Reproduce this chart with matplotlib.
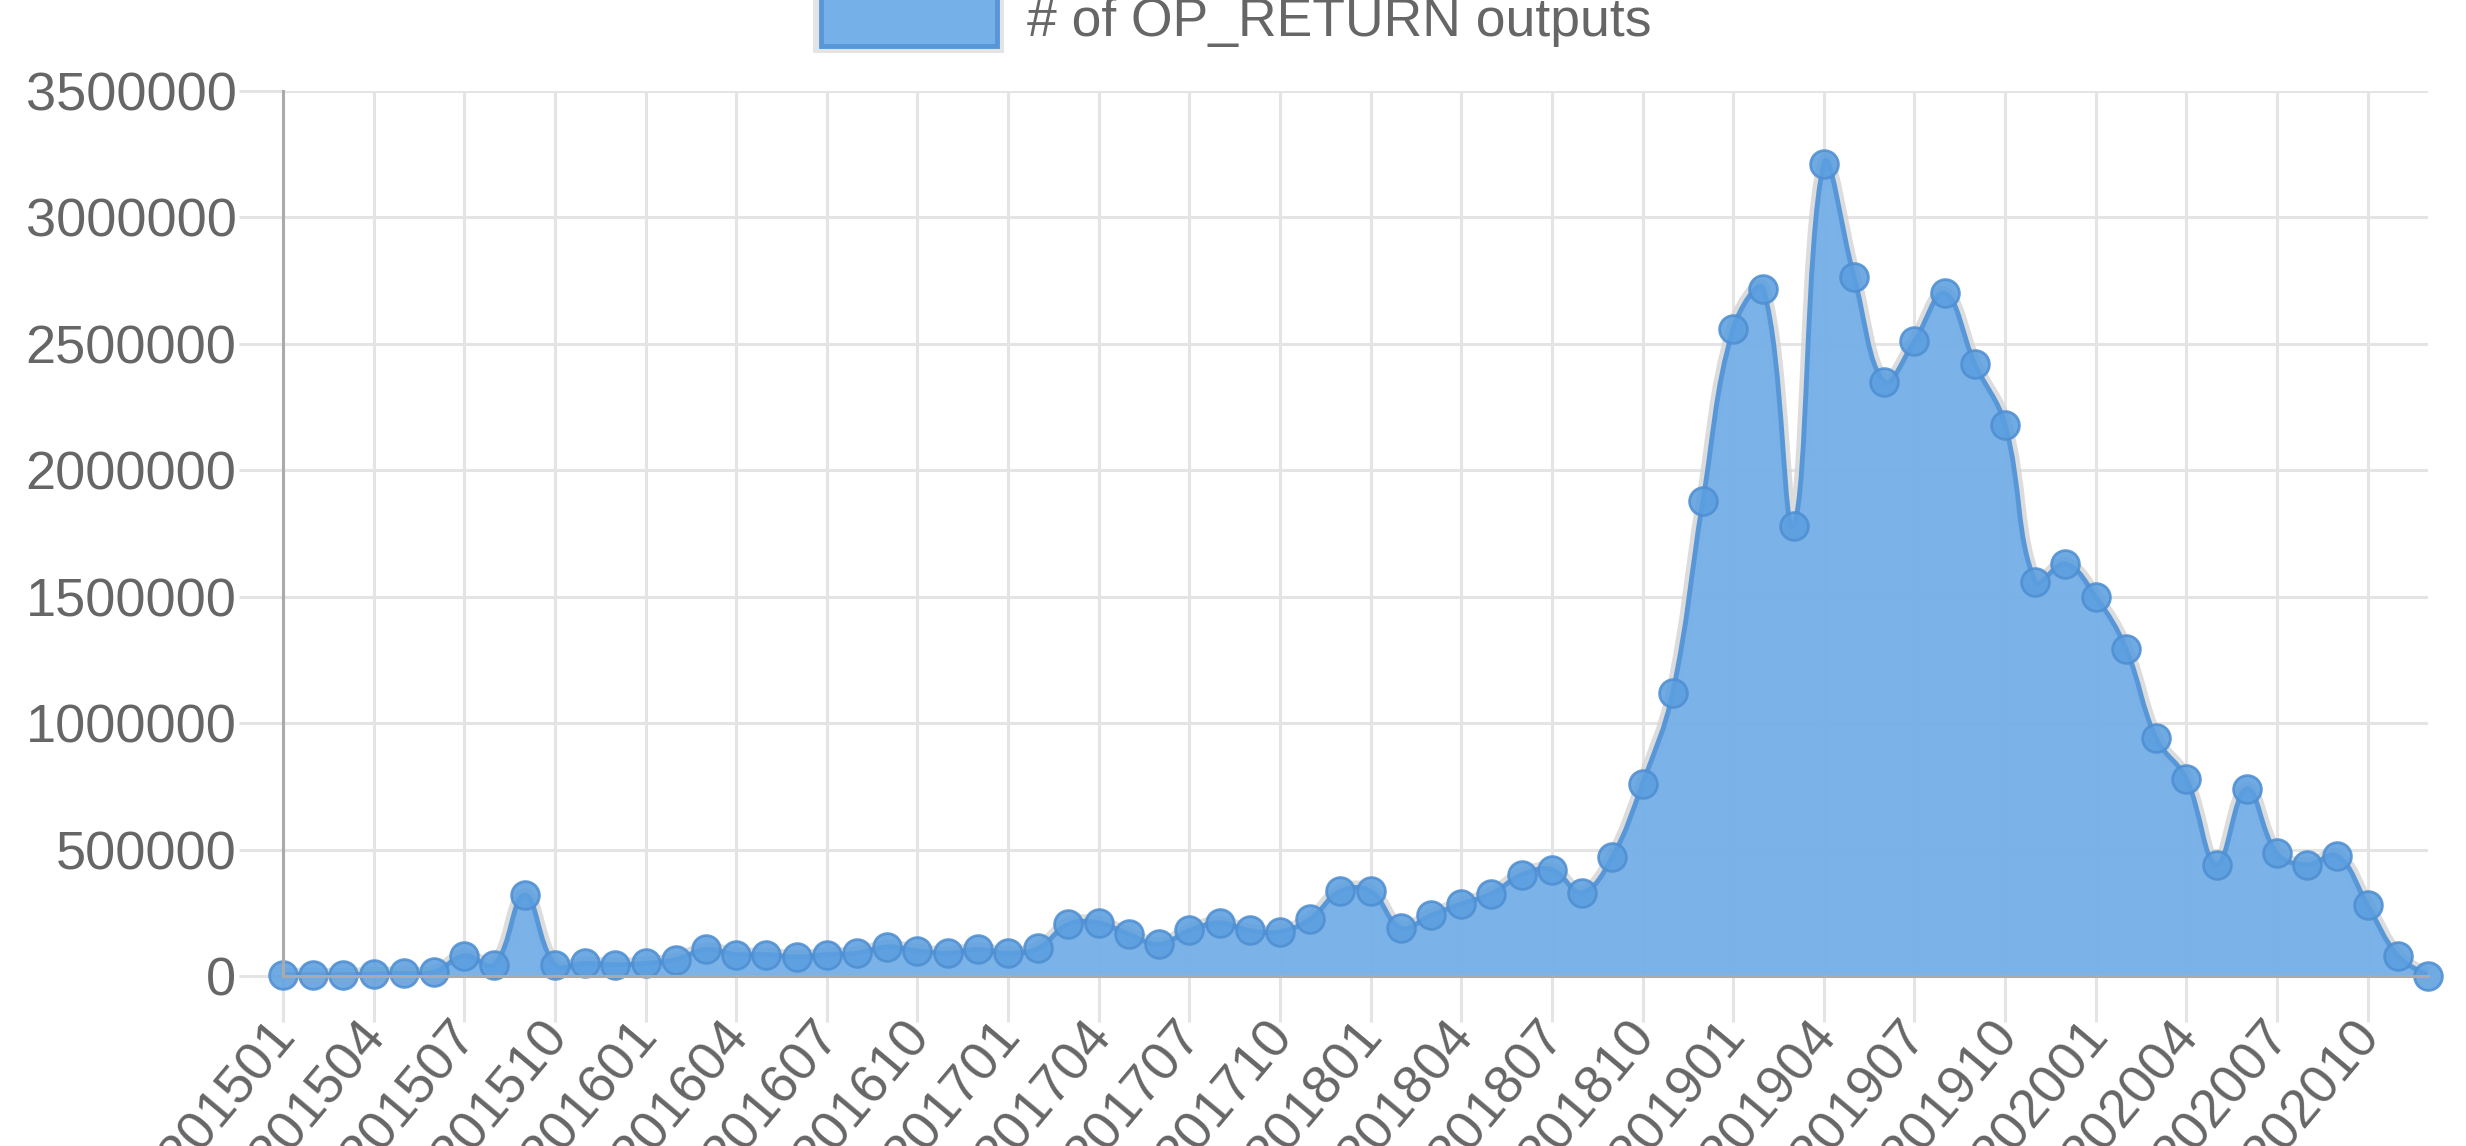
import numpy as np
import matplotlib.pyplot as plt
from matplotlib.path import Path
from matplotlib.patches import PathPatch, Rectangle
from matplotlib.transforms import ScaledTranslation

plt.rcParams['font.family'] = ['Liberation Sans', 'DejaVu Sans']

# monthly counts, 201501 .. 202012
months = [f'{y}{m:02d}' for y in range(2015, 2021) for m in range(1, 13)]
outputs = [5000, 5000, 5000, 8000, 10000, 15000, 80000, 45000, 320000, 45000, 50000, 45000,
           50000, 65000, 105000, 85000, 85000, 75000, 85000, 90000, 115000, 100000, 90000, 105000,
           90000, 110000, 205000, 210000, 165000, 125000, 180000, 210000, 180000, 175000, 225000, 335000,
           335000, 190000, 240000, 285000, 325000, 400000, 420000, 330000, 470000, 760000, 1120000, 1880000,
           2560000, 2715000, 1780000, 3210000, 2765000, 2350000, 2510000, 2700000, 2420000, 2180000, 1560000, 1630000,
           1500000, 1295000, 940000, 780000, 440000, 740000, 485000, 440000, 475000, 280000, 80000, 0]
label = '# of OP_RETURN outputs'

fill_col = '#76b0e8'
line_col = '#5797d8'
grid_col = '#e4e4e4'
txt_col = '#666666'

fig = plt.figure(figsize=(24.66, 11.46), dpi=100)
ax = fig.add_axes([283/2466, 170/1146, (2428-283)/2466, (976-91)/1146])
x = np.arange(len(months))
y = np.array(outputs, dtype=float)
ax.set_xlim(0, len(months)-1)
ax.set_ylim(0, 3500000)

# chart.js style bezier (tension 0.4), worked out in pixel space
pts = ax.transData.transform(np.column_stack([x, y]))
n = len(pts)
prev_c = np.zeros_like(pts)
next_c = np.zeros_like(pts)
t = 0.4
for i in range(n):
    a = pts[max(i-1, 0)]
    b = pts[i]
    c = pts[min(i+1, n-1)]
    d01 = np.hypot(*(b-a))
    d12 = np.hypot(*(c-b))
    tot = d01 + d12
    s01 = d01/tot if tot else 0
    s12 = d12/tot if tot else 0
    prev_c[i] = b - t*s01*(c-a)
    next_c[i] = b + t*s12*(c-a)
inv = ax.transData.inverted()
prev_d = inv.transform(prev_c)
next_d = inv.transform(next_c)
for arr in (prev_d, next_d):
    arr[:, 0] = np.clip(arr[:, 0], 0, len(months)-1)
    arr[:, 1] = np.clip(arr[:, 1], 0, 3500000)

verts = [(x[0], y[0])]
codes = [Path.MOVETO]
for i in range(n-1):
    verts += [tuple(next_d[i]), tuple(prev_d[i+1]), (x[i+1], y[i+1])]
    codes += [Path.CURVE4]*3
line_path = Path(verts, codes)
area_path = Path(verts + [(x[-1], 0), (x[0], 0), (x[0], 0)],
                 codes + [Path.LINETO, Path.LINETO, Path.CLOSEPOLY])

ax.add_patch(PathPatch(line_path, fill=False, ec='#d4d4d4', lw=10, alpha=0.8, zorder=2))
ax.add_patch(PathPatch(area_path, fc=fill_col, ec='none', alpha=0.96, zorder=3))
ax.add_patch(PathPatch(line_path, fill=False, ec=line_col, lw=3.5, zorder=4))
ax.plot(x, y, 'o', ms=20, mfc='#5c9fe0', mec='#4f8fd2', mew=2, alpha=0.88, zorder=5, clip_on=False)

# axes, grid, ticks
ax.set_xticks(x[::3])
ax.set_xticklabels(months[::3], rotation=50, ha='right', va='top', rotation_mode='anchor')
ax.set_yticks(np.arange(0, 3500001, 500000))
ax.set_yticklabels([str(v) for v in range(0, 3500001, 500000)])
ax.grid(True, color=grid_col, lw=2.2, zorder=0)
ax.set_axisbelow(True)
ax.tick_params(axis='both', colors=grid_col, width=2.2, labelsize=39, labelcolor=txt_col)
ax.tick_params(axis='y', length=32, pad=1.5)
ax.tick_params(axis='x', length=33, pad=-2)
shift = ScaledTranslation(-0.16, 0.08, fig.dpi_scale_trans)
for lab in ax.get_xticklabels():
    lab.set_transform(lab.get_transform() + shift)
for s in ['top', 'right']:
    ax.spines[s].set_visible(False)
for s in ['left', 'bottom']:
    ax.spines[s].set_color('#aaaaaa')
    ax.spines[s].set_linewidth(2.2)
    ax.spines[s].set_zorder(6)

# legend on top
fig.add_artist(Rectangle((813/2466, 1-53/1146), 191/2466, 0.06, transform=fig.transFigure,
                         fc='#e4e4e4', ec='none'))
fig.add_artist(Rectangle((821/2466, 1-46/1146), 176/2466, 0.06, transform=fig.transFigure,
                         fc=fill_col, ec=line_col, lw=3.5))
fig.text(1027/2466, 1-36/1146, label, fontsize=38.5, color=txt_col, va='baseline', ha='left')

fig.savefig('out.png', dpi=100)
